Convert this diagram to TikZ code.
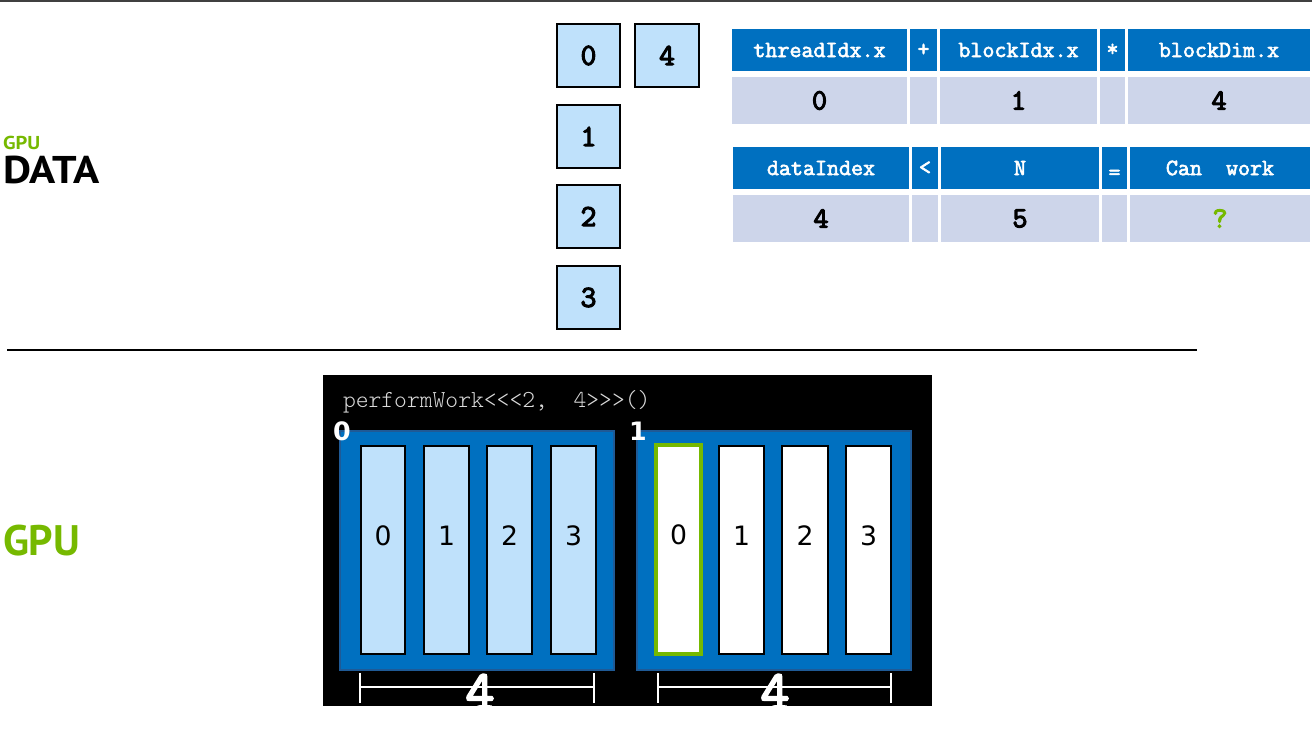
\documentclass[tikz,border=0pt]{standalone}
\usepackage{fontspec}
\setmainfont{PT Sans}
\newfontfamily\codefont{Latin Modern Mono Light}
\newfontfamily\codebold{Latin Modern Mono}[FakeBold=2.6]
\newfontfamily\codeheavy{Latin Modern Mono}[FakeBold=3.8]
\newfontfamily\digitfont{DejaVu Sans}
\definecolor{nvgreen}{HTML}{76B900}
\definecolor{cudablue}{HTML}{0070C0}
\definecolor{blockedge}{HTML}{1F5A96}
\definecolor{cellblue}{HTML}{BFE1FB}
\definecolor{rowgray}{HTML}{CDD5EA}
\definecolor{codegray}{HTML}{D9D9D9}
\definecolor{rulegray}{HTML}{404040}
% a node given by its top-left and bottom-right corners (pixel units)
\def\cell#1#2#3#4#5#6#7{\node[#6, anchor=north west, minimum width={(#4-#2)*0.75pt}, minimum height={(#5-#3)*0.75pt}] (#1) at (#2,#3) {#7};}
\begin{document}
\begin{tikzpicture}[x=0.75pt,y=-0.75pt,
  base/.style={inner sep=0pt, outer sep=0pt},
  databox/.style={base, draw=black, line width=0.8pt, fill=cellblue, font=\codeheavy\fontsize{23}{23}\selectfont},
  headcell/.style={base, fill=cudablue, text=white, font=\codebold\fontsize{17.5}{18}\selectfont},
  valcell/.style={base, fill=rowgray, text=black, font=\codeheavy\fontsize{22}{22}\selectfont},
  blockbox/.style={base, draw=blockedge, line width=1pt, fill=cudablue},
  thread/.style={base, draw=black, line width=0.8pt},
  threadnum/.style={label={[base, yshift=11pt, font=\digitfont\fontsize{20}{20}\selectfont]center:#1}},
  blocklabel/.style={base, text=white, font=\digitfont\bfseries\fontsize{19}{19}\selectfont},
  dimline/.style={draw=white, line width=2.2pt},
  dimlabel/.style={base, text=white, font=\codeheavy\fontsize{42}{42}\selectfont}]
\useasboundingbox (0,0) rectangle (1312,738);
\fill[white] (0,0) rectangle (1312,738);

% rules
\coordinate (topL) at (0,1);
\coordinate (topR) at (1312,1);
\draw[rulegray, line width=1.6pt] (topL) -- (topR);
\coordinate (midL) at (7,350);
\coordinate (midR) at (1197,350);
\draw[black, line width=2pt] (midL) -- (midR);

% side titles
\node[base, anchor=base west, text=nvgreen, font=\bfseries\fontsize{14}{14}\selectfont] (gpusmall) at (3,150) {\scalebox{1.1}[1]{GPU}};
\node[base, anchor=base west, text=black, font=\bfseries\fontsize{29}{29}\selectfont] (data) at (3,183) {\scalebox{1.12}[1]{DATA}};
\node[base, anchor=base west, text=nvgreen, font=\bfseries\fontsize{32}{32}\selectfont] (gpubig) at (3,555) {GPU};

% data elements
\cell{d0}{557}{24}{620}{87}{databox}{0}
\cell{d4}{635}{24}{699}{87}{databox}{4}
\cell{d1}{557}{105}{620}{168}{databox}{1}
\cell{d2}{557}{185}{620}{248}{databox}{2}
\cell{d3}{557}{266}{620}{329}{databox}{3}

% index calculation table
\cell{h1}{732}{29}{907}{71}{headcell}{threadIdx.x}
\cell{h2}{910}{29}{937}{71}{headcell}{+}
\cell{h3}{940}{29}{1097}{71}{headcell}{blockIdx.x}
\cell{h4}{1100}{29}{1125}{71}{headcell}{*}
\cell{h5}{1128}{29}{1310}{71}{headcell}{blockDim.x}
\cell{v1}{732}{77}{907}{124}{valcell}{0}
\cell{v2}{910}{77}{937}{124}{valcell}{}
\cell{v3}{940}{77}{1097}{124}{valcell}{1}
\cell{v4}{1100}{77}{1125}{124}{valcell}{}
\cell{v5}{1128}{77}{1310}{124}{valcell}{4}

% bounds check table
\cell{g1}{733}{147}{909}{189}{headcell}{dataIndex}
\cell{g2}{912}{147}{938}{189}{headcell}{<}
\cell{g3}{941}{147}{1099}{189}{headcell}{N}
\cell{g4}{1102}{147}{1127}{189}{headcell, label={[base, yshift=-5pt, text=white, font=\codebold\fontsize{17.5}{18}\selectfont]center:=}}{}
\cell{g5}{1130}{147}{1310}{189}{headcell}{Can\ \ work}
\cell{w1}{733}{195}{909}{242}{valcell}{4}
\cell{w2}{912}{195}{938}{242}{valcell}{}
\cell{w3}{941}{195}{1099}{242}{valcell}{5}
\cell{w4}{1102}{195}{1127}{242}{valcell}{}
\cell{w5}{1130}{195}{1310}{242}{valcell}{\textcolor{nvgreen}{?}}

% GPU panel
\cell{panel}{323}{375}{932}{706}{base, fill=black}{}
\node[base, anchor=base west, text=codegray, font=\codefont\fontsize{18.3}{18}\selectfont] (launch) at (343,407) {performWork<<<2,\ \ 4>>>()};

% block 0
\cell{b0}{340}{431}{614}{670}{blockbox}{}
\cell{b0t0}{361}{446}{405}{654}{thread, fill=cellblue, threadnum=0}{}
\cell{b0t1}{424}{446}{469}{654}{thread, fill=cellblue, threadnum=1}{}
\cell{b0t2}{487}{446}{532}{654}{thread, fill=cellblue, threadnum=2}{}
\cell{b0t3}{551}{446}{596}{654}{thread, fill=cellblue, threadnum=3}{}
\node[blocklabel] (b0lab) at (342,431) {0};

% block 1
\cell{b1}{637}{431}{911}{670}{blockbox}{}
\cell{b1t0}{656}{445}{701}{654}{thread, fill=white, draw=nvgreen, line width=2.4pt, threadnum=0}{}
\cell{b1t1}{719}{446}{764}{654}{thread, fill=white, threadnum=1}{}
\cell{b1t2}{782}{446}{828}{654}{thread, fill=white, threadnum=2}{}
\cell{b1t3}{846}{446}{891}{654}{thread, fill=white, threadnum=3}{}
\node[blocklabel] (b1lab) at (638,431) {1};

% block dimension markers
\coordinate (m0a) at (360,673); \coordinate (m0b) at (360,703);
\coordinate (m0c) at (594,673); \coordinate (m0d) at (594,703);
\coordinate (m0l) at (360,687); \coordinate (m0r) at (594,687);
\draw[dimline] (m0a) -- (m0b) (m0c) -- (m0d) (m0l) -- (m0r);
\node[dimlabel] (dim0) at (480,692) {4};

\coordinate (m1a) at (658,673); \coordinate (m1b) at (658,703);
\coordinate (m1c) at (891,673); \coordinate (m1d) at (891,703);
\coordinate (m1l) at (658,687); \coordinate (m1r) at (891,687);
\draw[dimline] (m1a) -- (m1b) (m1c) -- (m1d) (m1l) -- (m1r);
\node[dimlabel] (dim1) at (775,692) {4};
\end{tikzpicture}
\end{document}
